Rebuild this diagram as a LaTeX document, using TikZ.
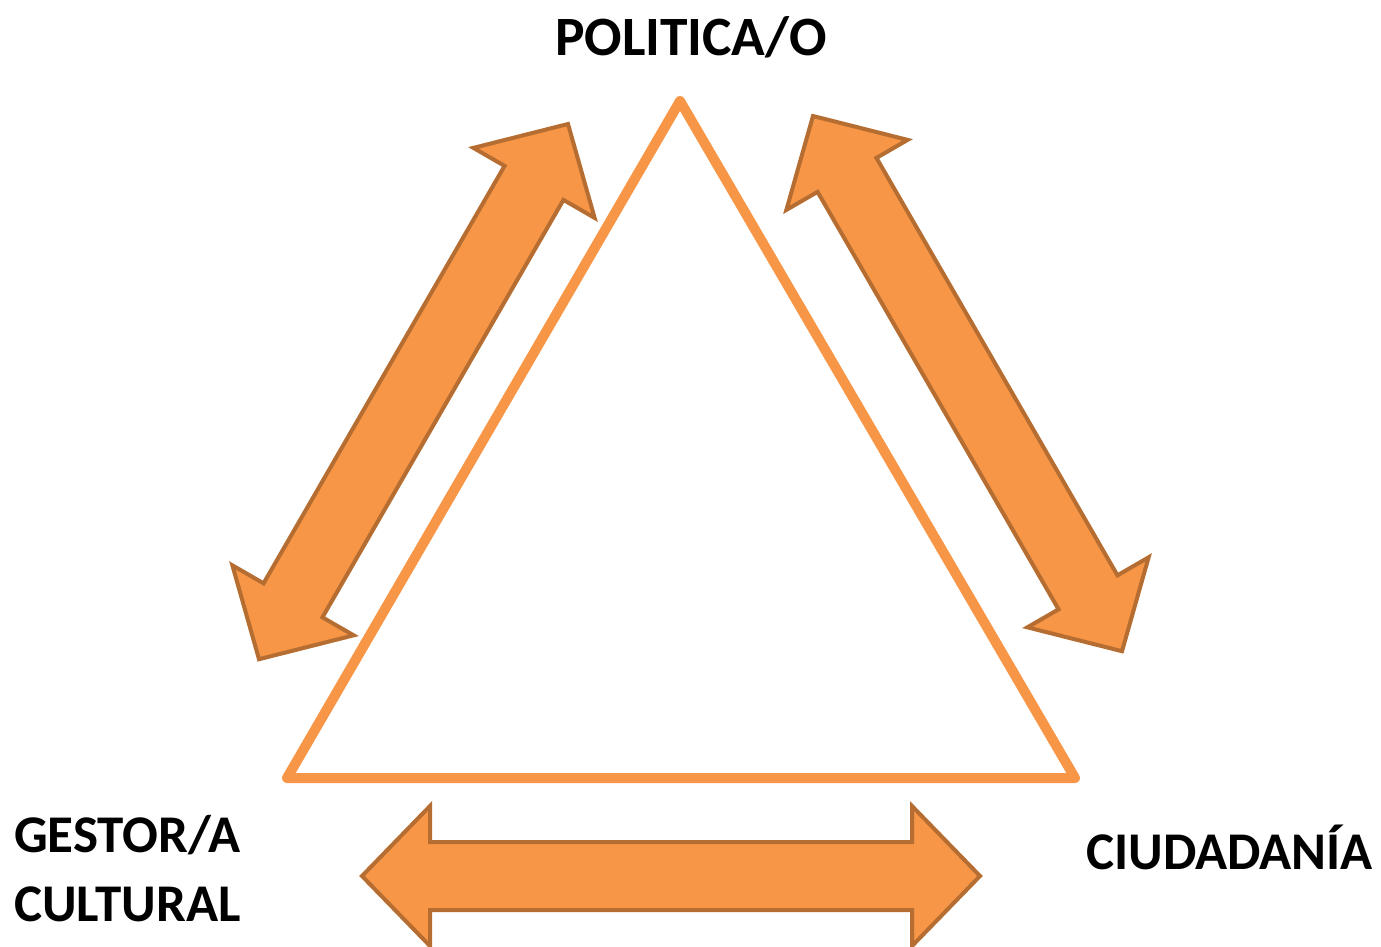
\documentclass[tikz,border=0pt]{standalone}
\usepackage{fontspec}
\setmainfont{Carlito}
\definecolor{naranja}{HTML}{F79646}
\definecolor{naranjaosc}{HTML}{B66D31}
\begin{document}
\begin{tikzpicture}[x=1pt,y=-1pt]
    \tikzstyle{lbl} = [font=\fontsize{53}{64}\selectfont\bfseries,inner sep=0pt] %label
    \tikzstyle{tri} = [draw=naranja,line width=10pt,line join=round] %triangle
    \tikzstyle{flecha} = [fill=naranja,draw=naranjaosc,line width=4pt,line join=miter] %block arrow
    \tikzset{dflecha/.pic={
      \draw[flecha](0,0)--(68,70)--(68,34)--(550,34)--(550,70)--(618,0)
        --(550,-70)--(550,-34)--(68,-34)--(68,-70)--cycle;}}
    \useasboundingbox(0,0)rectangle(1381,946);
    % triangle
    \coordinate(vp)at(680,101);
    \coordinate(vg)at(287,778);
    \coordinate(vc)at(1075,778);
    \draw[tri](vp)--(vc)--(vg)--cycle;
    % arrows
    \pic[rotate=240]at(568,124){dflecha};
    \pic[rotate=300]at(813,116){dflecha};
    \pic at(362,876){dflecha};
    % labels
    \node[lbl,font=\fontsize{55.5}{64}\selectfont\bfseries,anchor=base](politica)at(691,55){POLITICA/O};
    \node[lbl,anchor=base west](gestor)at(14,852){GESTOR/A};
    \node[lbl,anchor=base west](cultural)at(14,921){CULTURAL};
    \node[lbl,anchor=base west](ciudadania)at(1086,869){CIUDADANÍA};
  \end{tikzpicture}
\end{document}
